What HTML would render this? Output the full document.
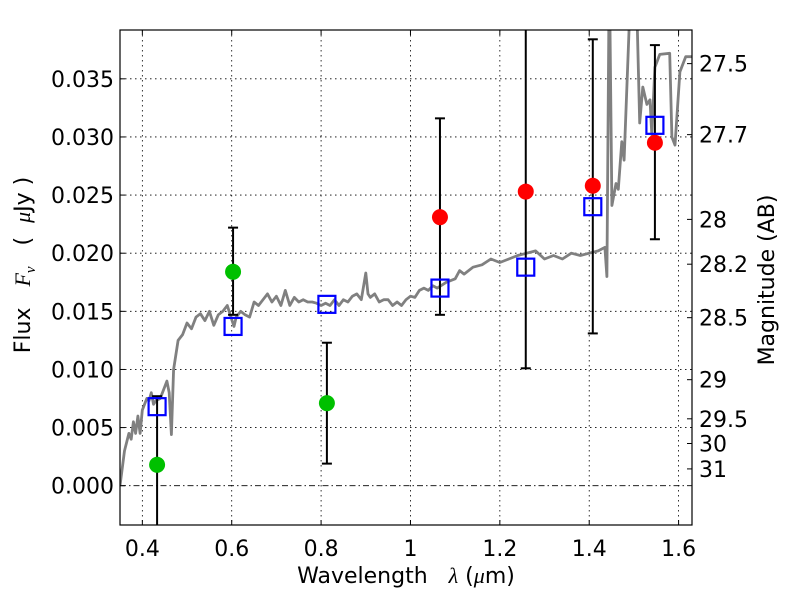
<!DOCTYPE html>
<html><head><meta charset="utf-8"><style>
html,body{margin:0;padding:0;background:#fff}
svg{display:block;font-family:"DejaVu Sans","Liberation Sans",sans-serif}
</style></head><body>
<svg id="chart" width="800" height="600" viewBox="0 0 800 600">
<defs><clipPath id="clip"><rect x="120" y="30" width="572" height="495"/></clipPath></defs>
<g id="grid"></g>
<g id="spec" clip-path="url(#clip)"></g>
<g id="marks" clip-path="url(#clip)"></g>
<rect x="120" y="30" width="572" height="495" fill="none" stroke="#000" stroke-width="1.2"/>
<g id="axes"></g>
<text x="406" y="583" font-size="22" text-anchor="middle">Wavelength&#160;&#160;&#160;<tspan font-style="italic" font-family="Liberation Serif, serif">λ</tspan>&#160;(<tspan font-style="italic" font-family="Liberation Serif, serif">μ</tspan>m)</text>
<text transform="translate(30,265) rotate(-90)" font-size="22" text-anchor="middle">Flux&#160;&#160;&#160;<tspan font-style="italic" font-family="Liberation Serif, serif">F</tspan><tspan font-size="15" dy="5" font-style="italic" font-family="Liberation Serif, serif">ν</tspan><tspan dy="-5">&#160;&#160;&#160;(&#160;&#160;</tspan><tspan font-style="italic" font-family="Liberation Serif, serif">μ</tspan>Jy&#160;)</text>
<text transform="translate(774,280) rotate(-90)" font-size="22" text-anchor="middle">Magnitude (AB)</text>
</svg>
<script>
const xTicks=[0.4,0.6,0.8,1.0,1.2,1.4,1.6];
const xTickLabels=["0.4","0.6","0.8","1","1.2","1.4","1.6"];
const yTicks=[0,0.005,0.01,0.015,0.02,0.025,0.03,0.035];
const yTickLabels=["0.000","0.005","0.010","0.015","0.020","0.025","0.030","0.035"];
const magTicks=[27.5,27.7,28,28.2,28.5,29,29.5,30,31];
const specLam=[0.35,0.36,0.37,0.375,0.38,0.385,0.39,0.395,0.40,0.41,0.415,0.42,0.425,0.43,0.44,0.45,0.455,0.46,0.465,0.47,0.48,0.49,0.50,0.51,0.52,0.53,0.54,0.55,0.56,0.57,0.58,0.59,0.60,0.605,0.61,0.62,0.63,0.64,0.65,0.66,0.67,0.68,0.69,0.70,0.71,0.72,0.73,0.74,0.75,0.76,0.77,0.78,0.79,0.80,0.81,0.82,0.83,0.84,0.85,0.86,0.87,0.88,0.89,0.90,0.905,0.91,0.92,0.93,0.94,0.95,0.96,0.97,0.98,0.99,1.00,1.01,1.02,1.03,1.04,1.05,1.06,1.08,1.10,1.11,1.12,1.14,1.16,1.18,1.20,1.22,1.24,1.26,1.28,1.30,1.32,1.34,1.36,1.38,1.40,1.42,1.435,1.4395,1.445,1.4507,1.46,1.465,1.473,1.478,1.49,1.4977,1.504,1.513,1.520,1.529,1.536,1.540,1.547,1.558,1.580,1.585,1.592,1.603,1.616,1.63];
const specFlux=[0.000,0.003,0.0045,0.004,0.0055,0.0045,0.006,0.0045,0.0065,0.0075,0.0073,0.0080,0.0070,0.0073,0.0075,0.0085,0.0090,0.0080,0.0044,0.0100,0.0125,0.0130,0.0140,0.0135,0.0145,0.0148,0.0142,0.0150,0.0138,0.0147,0.0150,0.0155,0.0143,0.0137,0.0145,0.0150,0.0147,0.0145,0.0158,0.0155,0.0160,0.0165,0.0158,0.0163,0.0155,0.0168,0.0155,0.0162,0.0158,0.0160,0.0158,0.0158,0.0157,0.0155,0.0157,0.0155,0.0160,0.0155,0.0160,0.0158,0.0163,0.0165,0.0160,0.0183,0.0165,0.0162,0.0165,0.0158,0.0160,0.0160,0.0155,0.0158,0.0155,0.0160,0.0163,0.0162,0.0168,0.0170,0.0168,0.0172,0.0170,0.0175,0.0178,0.0185,0.0182,0.0188,0.0190,0.0195,0.0192,0.0195,0.0198,0.0200,0.0202,0.0195,0.0198,0.0195,0.0200,0.0198,0.0200,0.0202,0.0205,0.0180,0.045,0.0241,0.026,0.0255,0.0296,0.028,0.040,0.045,0.045,0.0312,0.0343,0.0328,0.0332,0.0302,0.0360,0.0371,0.0372,0.0300,0.0293,0.0356,0.0369,0.0369];
const obsLam=[0.433,0.603,0.813,1.066,1.258,1.408,1.547];
const obsFlux=[0.0018,0.0184,0.0071,0.0231,0.0253,0.0258,0.0295];
const obsIsRed=[false,false,false,true,true,true,true];
const errLow=[-0.006,0.0147,0.0019,0.0147,0.0101,0.0131,0.0212];
const errHigh=[0.0077,0.0222,0.0123,0.0316,0.045,0.0384,0.0379];
const modelFlux=[0.0068,0.0137,0.0156,0.0170,0.0188,0.0240,0.0310];

const NS="http://www.w3.org/2000/svg";
const X0=120,X1=692,Y0=30,Y1=525,XMIN=0.35,XMAX=1.63,YMIN=-0.00338,YMAX=0.0392;
const sx=v=>X0+(v-XMIN)/(XMAX-XMIN)*(X1-X0);
const sy=v=>Y1-(v-YMIN)/(YMAX-YMIN)*(Y1-Y0);
function mk(tag,attrs,parent,text){const e=document.createElementNS(NS,tag);for(const k in attrs)e.setAttribute(k,attrs[k]);if(text!==undefined)e.textContent=text;parent.appendChild(e);return e;}
const grid=document.getElementById('grid'),axes=document.getElementById('axes'),spec=document.getElementById('spec'),marks=document.getElementById('marks');
xTicks.forEach((t,i)=>{const x=sx(t);
 const g=mk('line',{x1:x,x2:x,y1:Y0,y2:Y1,stroke:'#000','stroke-width':0.8,'stroke-dasharray':'1.5,3.5'},grid);
 
 mk('line',{x1:x,x2:x,y1:Y1,y2:Y1-5,stroke:'#000'},axes);mk('line',{x1:x,x2:x,y1:Y0,y2:Y0+5,stroke:'#000'},axes);
 const l=mk('text',{x:x,y:Y1+31,'font-size':22,'text-anchor':'middle'},axes,xTickLabels[i]);
 });
yTicks.forEach((t,i)=>{const y=sy(t);
 const g=mk('line',{x1:X0,x2:X1,y1:y,y2:y,stroke:'#000','stroke-width':0.8,'stroke-dasharray':t===0?'6,3,1.5,3':'1.5,3.5'},grid);
 
 mk('line',{x1:X0,x2:X0+5,y1:y,y2:y,stroke:'#000'},axes);
 const l=mk('text',{x:X0-6,y:y+8,'font-size':22,'text-anchor':'end'},axes,yTickLabels[i]);
 });
magTicks.forEach(m=>{const y=sy(Math.pow(10,(23.9-m)/2.5));
 mk('line',{x1:X1,x2:X1-5,y1:y,y2:y,stroke:'#000'},axes);
 const l=mk('text',{x:X1+7,y:y+8,'font-size':22},axes,String(m));
 });
const pts=specLam.map((l,i)=>sx(l).toFixed(1)+','+sy(specFlux[i]).toFixed(1)).join(' ');
const pl=mk('polyline',{points:pts,fill:'none',stroke:'#808080','stroke-width':2.8,'stroke-linejoin':'round'},spec);

obsLam.forEach((l,i)=>{const x=sx(l);
 const e=mk('line',{x1:x,x2:x,y1:sy(errLow[i]),y2:sy(errHigh[i]),stroke:'#000','stroke-width':2},marks);
 
 [errLow[i],errHigh[i]].forEach(v=>mk('line',{x1:x-5,x2:x+5,y1:sy(v),y2:sy(v),stroke:'#000','stroke-width':2},marks));
 const c=mk('circle',{cx:x,cy:sy(obsFlux[i]),r:8,fill:obsIsRed[i]?'#ff0000':'#00c000'},marks);
 
 const s=mk('rect',{x:x-8.5,y:sy(modelFlux[i])-8.5,width:17,height:17,fill:'none',stroke:'#0000ff','stroke-width':2.2},marks);
 });
</script>
</body></html>
